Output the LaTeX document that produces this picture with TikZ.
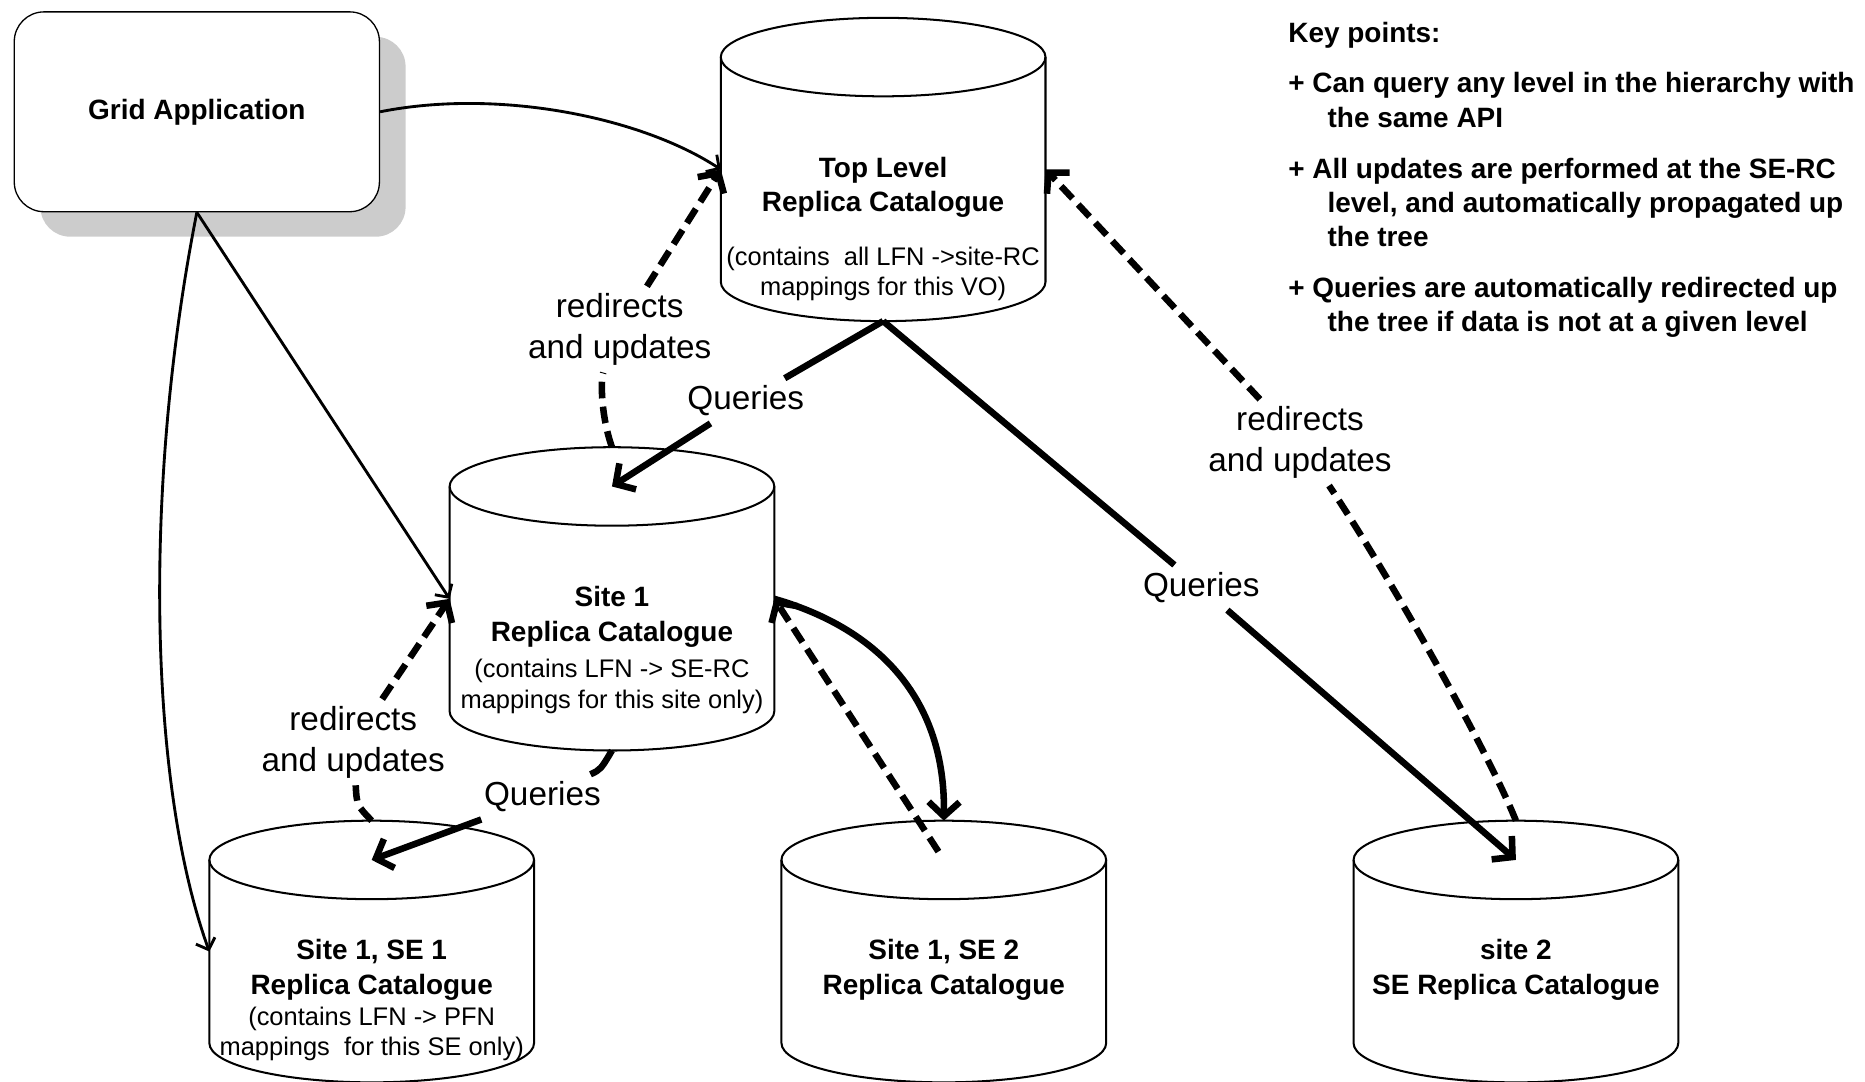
\documentclass[tikz,border=0pt]{standalone}
\usepackage{fontspec}
\setmainfont{Liberation Sans}
\usetikzlibrary{arrows.meta,calc}
\definecolor{shadowgray}{RGB}{204,204,204}
\tikzset{
  cylline/.style={line width=1.7pt, fill=white},
  gabox/.style={draw, line width=1.1pt, rounded corners=25pt, fill=white, minimum width=307pt, minimum height=168pt, font=\fontsize{23.5}{29}\selectfont\bfseries},
  ttl/.style={font=\fontsize{23.5}{29}\selectfont\bfseries, align=center, inner sep=0pt},
  cnt/.style={font=\fontsize{21.4}{25.5}\selectfont, align=center, inner sep=0pt},
  lbl/.style={font=\fontsize{28}{34}\selectfont, align=center, inner sep=6pt},
  kp/.style={font=\fontsize{23.5}{29}\selectfont\bfseries, anchor=base west, inner sep=0pt},
  thinarrow/.style={line width=2.4pt, -{Straight Barb[length=8pt,width=17pt]}},
  thk/.style={line width=5.5pt},
  dsh/.style={line width=5.5pt, dash pattern=on 14pt off 7pt},
  bigtip/.style={-{Straight Barb[length=12pt,width=26pt]}},
}
\newcommand{\drawcyl}[4]{%
  \draw[cylline] (#2-136.5,#3) -- (#2-136.5,#4)
     arc[start angle=180,end angle=360,x radius=136.5pt,y radius=33pt]
     -- (#2+136.5,#3)
     arc[start angle=0,end angle=180,x radius=136.5pt,y radius=33pt] -- cycle;
  \draw[line width=1.7pt] (#2-136.5,#3)
     arc[start angle=180,end angle=360,x radius=136.5pt,y radius=33pt];
  \node[minimum width=273pt, minimum height={#3-#4+66}, inner sep=0pt, outer sep=0pt] (#1) at (#2,{(#3+#4)/2}) {};
  \coordinate (#1-t) at (#2,#3);
}
\begin{document}
\begin{tikzpicture}[x=1pt,y=1pt]
\useasboundingbox (0,0) rectangle (1568,909);

% Grid application box with shadow
\fill[shadowgray, rounded corners=25pt] (34,710) rectangle (341,878);
\node[gabox] (ga) at (165.5,815) {Grid Application};

% cylinders
\drawcyl{top}{742.5}{861}{672}
\drawcyl{site1}{514.5}{500}{311}
\drawcyl{se1}{312.5}{186}{32}
\drawcyl{se2}{793.5}{186}{32}
\drawcyl{site2}{1274.5}{186}{32}

% cylinder texts
\node[ttl] (top-l) at (742.5,751.5) {Top Level\\Replica Catalogue};
\node[cnt] (top-c) at (742.5,678.5) {(contains\ \ all LFN ->site-RC\\mappings for this VO)};
\node[ttl] (site1-l) at (514.5,390.5) {Site 1\\Replica Catalogue};
\node[cnt] (site1-c) at (514.5,332) {(contains LFN -> SE-RC\\mappings for this site only)};
\node[ttl] (se1-l) at (312.5,93.5) {Site 1, SE 1\\Replica Catalogue};
\node[cnt] (se1-c) at (312.5,39.5) {(contains LFN -> PFN\\mappings\ \ for this SE only)};
\node[ttl] (se2-l) at (793.5,93.5) {Site 1, SE 2\\Replica Catalogue};
\node[ttl] (site2-l) at (1274.5,93.5) {site 2\\SE Replica Catalogue};

% connector labels
\node[lbl] (lab1) at (521,632) {redirects\\and updates};
\node[lbl] (lab2) at (1093,537) {redirects\\and updates};
\node[lbl] (lab3) at (297,285) {redirects\\and updates};
\node[lbl] (q1) at (627,572) {Queries};
\node[lbl] (q2) at (1010,415) {Queries};
\node[lbl] (q3) at (456,239) {Queries};

\coordinate (se2-d) at (789,193);

% thin connectors from the application
\draw[thinarrow] (ga.east) .. controls (420,835) and (540,810) .. (top.west);
\draw[thinarrow] (ga.south) -- (site1.west);
\draw[thinarrow] (ga.south) .. controls (120,500) and (125,250) .. (se1.west);

% queries (solid thick)
\draw[thk] (top.south) -- (q1);
\draw[thk,bigtip] (q1) -- (site1-t);
\draw[thk] (top.south) -- (q2);
\draw[thk,bigtip] (q2) -- (site2-t);
\draw[thk] (site1.south) .. controls (505,262) .. (q3);
\draw[thk,bigtip] (q3) -- (se1-t);
\draw[thk,bigtip] (site1.east) .. controls (740,380) and (795,320) .. (se2.north);

% redirects and updates (dashed thick)
\draw[dsh] (site1.north) .. controls (505,560) and (505,590) .. (lab1);
\draw[dsh,bigtip] (lab1) -- (top.west);
\draw[dsh] (site2.north) .. controls (1250,280) and (1165,430) .. (lab2);
\draw[dsh,bigtip] (lab2) -- (top.east);
\draw[dsh] (se1.north) .. controls (300,232) .. (lab3);
\draw[dsh,bigtip] (lab3) -- (site1.west);
\draw[dsh,bigtip] (se2-d) -- (site1.east);

% key points
\node[kp] (k0) at (1083,873) {Key points:};
\node[kp] (k1a) at (1083,831) {+ Can query any level in the hierarchy with};
\node[kp] (k1b) at (1116,802) {the same API};
\node[kp] (k2a) at (1083,759) {+ All updates are performed at the SE-RC};
\node[kp] (k2b) at (1116,730) {level, and automatically propagated up};
\node[kp] (k2c) at (1116,702) {the tree};
\node[kp] (k3a) at (1083,659) {+ Queries are automatically redirected up};
\node[kp] (k3b) at (1116,630) {the tree if data is not at a given level};
\end{tikzpicture}
\end{document}
